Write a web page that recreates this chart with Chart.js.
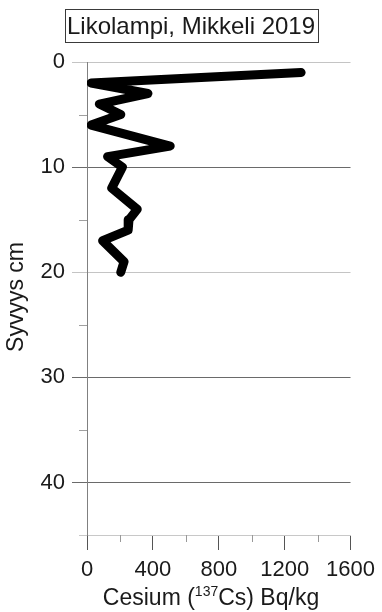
<!DOCTYPE html>
<html>
<head>
<meta charset="utf-8">
<script src="https://cdn.jsdelivr.net/npm/chart.js@4/dist/chart.umd.min.js"></script>
<style>
  html, body { margin: 0; padding: 0; background: #ffffff; }
  canvas { display: block; }
</style>
</head>
<body>
<canvas id="c" width="382" height="612"></canvas>
<script>
// Cs-137 activity profile of the Likolampi sediment core
const chartTitle = 'Likolampi, Mikkeli 2019';
const depthCm = [1, 2, 3, 4, 5, 6, 8, 9, 10, 12, 14, 15, 16, 17, 19, 20];
const cesiumBqKg = [1300, 25, 370, 75, 205, 25, 505, 125, 215, 150, 305, 255, 250, 95, 225, 205];
const xTickValues = [0, 400, 800, 1200, 1600];
const yTickValues = [0, 10, 20, 30, 40];

const FONT = "'Liberation Sans', Arial, sans-serif";
const TEXT = '#1a1a1a';
const LIGHT_GRID = '#c4c4c4';
const DARK_GRID = '#6a6a6a';

function yGridColor(v) {
  if (v === 0 || v === 20) return LIGHT_GRID;
  if (v === 10 || v === 30 || v === 40) return DARK_GRID;
  return 'rgba(0,0,0,0)';
}

// Minor ticks, axis titles (with the superscript isotope number) and the boxed title
const decorations = {
  id: 'decorations',
  afterDraw(chart) {
    const ctx = chart.ctx;
    const xs = chart.scales.x, ys = chart.scales.y;
    const area = chart.chartArea;
    ctx.save();
    ctx.lineWidth = 1;
    // minor depth ticks
    for (let v = 5; v <= 45; v += 10) {
      const py = Math.round(ys.getPixelForValue(v)) + 0.5;
      ctx.strokeStyle = v === 45 ? '#c8c8c8' : '#a0a0a0';
      ctx.beginPath();
      ctx.moveTo(area.left - 8, py);
      ctx.lineTo(area.left, py);
      ctx.stroke();
    }
    // minor activity ticks
    ctx.strokeStyle = '#999999';
    for (let v = 200; v < 1600; v += 400) {
      const px = Math.round(xs.getPixelForValue(v)) + 0.5;
      ctx.beginPath();
      ctx.moveTo(px, area.bottom);
      ctx.lineTo(px, area.bottom + 7);
      ctx.stroke();
    }

    ctx.fillStyle = TEXT;
    ctx.textBaseline = 'alphabetic';

    // x-axis title: Cesium (137Cs) Bq/kg
    const big = 23, small = 14;
    const p1 = 'Cesium (', sup = '137', p2 = 'Cs) Bq/kg';
    ctx.font = big + 'px ' + FONT;
    const w1 = ctx.measureText(p1).width, w3 = ctx.measureText(p2).width;
    ctx.font = small + 'px ' + FONT;
    const w2 = ctx.measureText(sup).width;
    const total = w1 + w2 + w3;
    let x0 = 211 - total / 2;
    const base = 605;
    ctx.textAlign = 'left';
    ctx.font = big + 'px ' + FONT;
    ctx.fillText(p1, x0, base);
    ctx.font = small + 'px ' + FONT;
    ctx.fillText(sup, x0 + w1, base - 9);
    ctx.font = big + 'px ' + FONT;
    ctx.fillText(p2, x0 + w1 + w2, base);

    // y-axis title
    ctx.save();
    ctx.translate(16.5, 297);
    ctx.rotate(-Math.PI / 2);
    ctx.textAlign = 'center';
    ctx.textBaseline = 'middle';
    ctx.font = big + 'px ' + FONT;
    ctx.fillText('Syvyys cm', 0, 0);
    ctx.restore();

    // boxed chart title
    ctx.strokeStyle = '#3a3a3a';
    ctx.strokeRect(65.5, 9.5, 253, 33);
    ctx.textAlign = 'center';
    ctx.textBaseline = 'alphabetic';
    ctx.font = '24px ' + FONT;
    ctx.fillText(chartTitle, 191, 34);
    ctx.restore();
  }
};

const points = depthCm.map((d, i) => ({ x: cesiumBqKg[i], y: d }));

new Chart(document.getElementById('c'), {
  type: 'line',
  data: {
    datasets: [{
      data: points,
      borderColor: '#000000',
      borderWidth: 9,
      borderCapStyle: 'round',
      borderJoinStyle: 'round',
      pointRadius: 0,
      tension: 0,
      fill: false
    }]
  },
  options: {
    responsive: false,
    devicePixelRatio: 1,
    animation: false,
    events: [],
    layout: { padding: { top: 62, right: 29, left: 0, bottom: 0 } },
    plugins: { legend: { display: false }, title: { display: false }, tooltip: { enabled: false } },
    scales: {
      x: {
        type: 'linear',
        position: 'bottom',
        min: 0,
        max: 1600,
        afterFit: s => { s.height = 77; },
        ticks: {
          stepSize: 200,
          autoSkip: false,
          maxRotation: 0,
          padding: 7,
          color: TEXT,
          font: { family: FONT, size: 22 },
          callback: v => xTickValues.includes(v) ? String(v) : ''
        },
        grid: {
          drawOnChartArea: false,
          tickLength: 15,
          tickColor: c => (c.tick && xTickValues.includes(c.tick.value)) ? '#555555' : 'rgba(0,0,0,0)'
        },
        border: { color: '#c8c8c8', width: 1 }
      },
      y: {
        type: 'linear',
        reverse: true,
        min: 0,
        max: 45,
        afterFit: s => { s.width = 87; },
        ticks: {
          stepSize: 5,
          autoSkip: false,
          padding: 7,
          color: TEXT,
          font: { family: FONT, size: 22 },
          callback: v => yTickValues.includes(v) ? String(v) : ''
        },
        grid: {
          tickLength: 15,
          color: c => yGridColor(c.tick ? c.tick.value : -1),
          tickColor: c => yGridColor(c.tick ? c.tick.value : -1)
        },
        border: { color: '#808080', width: 1 }
      }
    }
  },
  plugins: [decorations]
});
</script>
</body>
</html>
